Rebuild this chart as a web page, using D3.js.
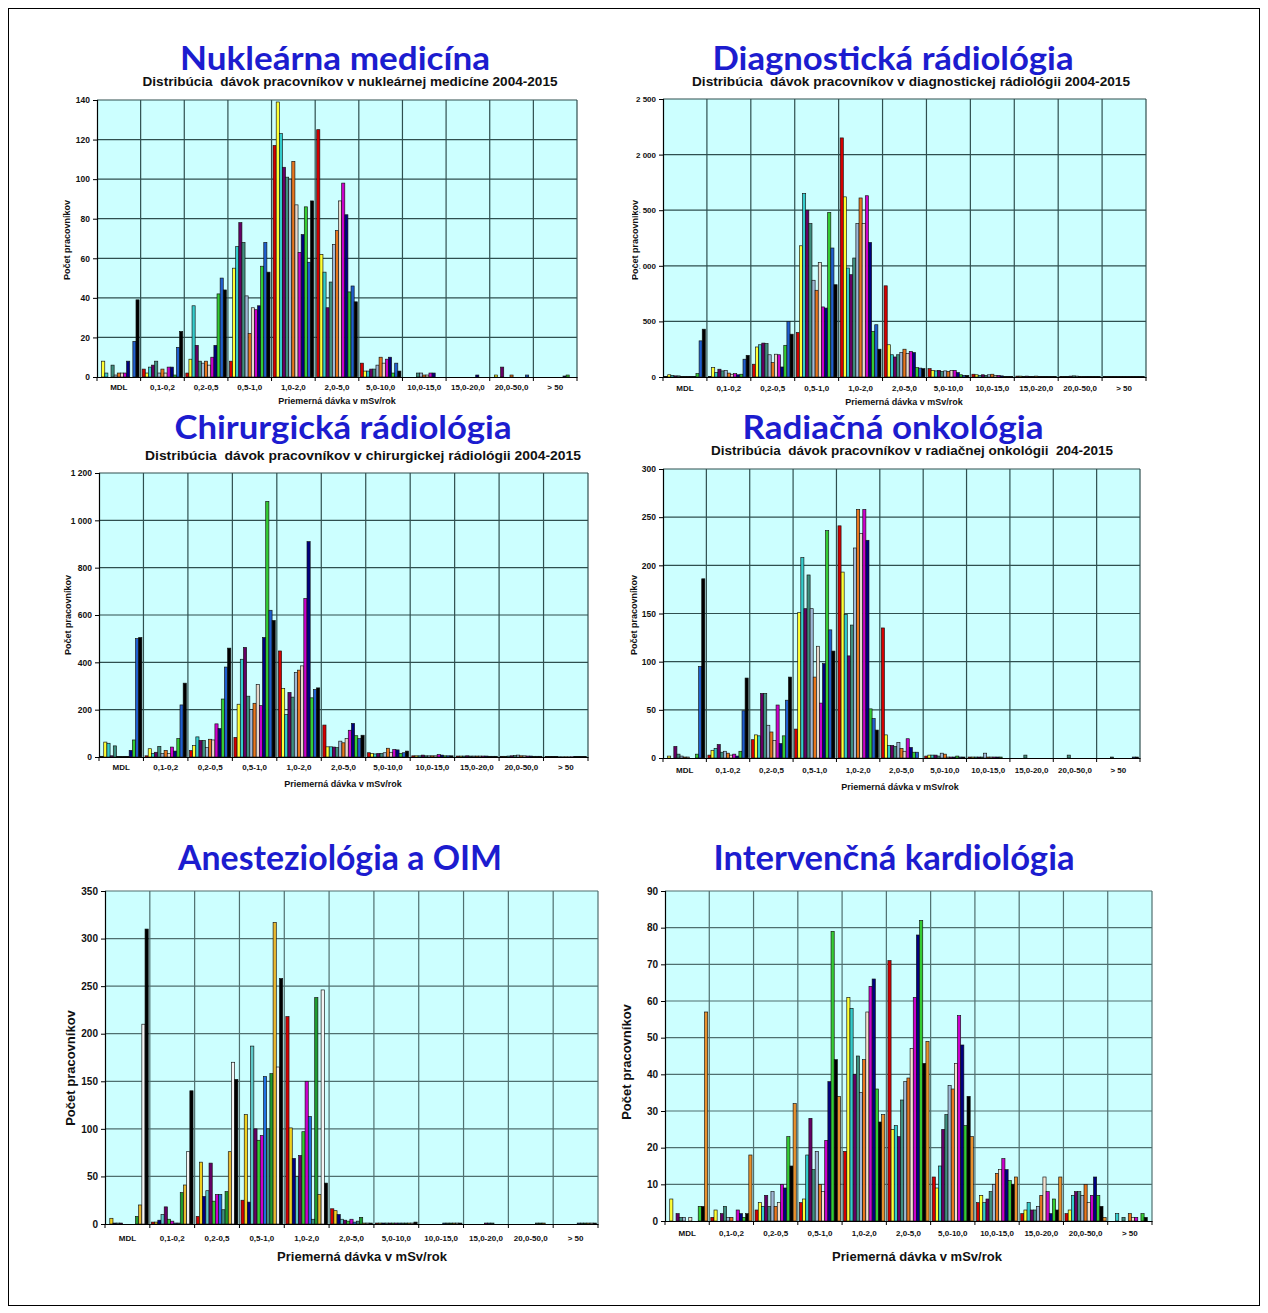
<!DOCTYPE html>
<html><head><meta charset="utf-8">
<script src="https://cdn.jsdelivr.net/npm/d3@7"></script>
<style>body{margin:0;background:#fff}</style>
</head><body><svg id="c" width="1268" height="1313"></svg>
<script>
// ---------- DATA ----------
const categories = ["MDL","0,1-0,2","0,2-0,5","0,5-1,0","1,0-2,0","2,0-5,0","5,0-10,0","10,0-15,0","15,0-20,0","20,0-50,0","> 50"];
const seriesIds = d3.range(13); // 13 bars per dose band

// Nukleárna medicína (rows = dose band, cols = series)
const nukData = [
 [0,8,2,0,6,1,2,2,2,8,0,18,39],
 [4,2,5,6,8,2,4,2,5,5,1,15,23],
 [2,9,36,16,8,7,8,6,10,16,42,50,44],
 [8,55,66,78,68,41,22,35,34,36,56,68,53],
 [117,139,123,106,101,100,109,87,63,72,86,58,89],
 [125,62,53,35,48,67,74,89,98,82,43,46,38],
 [7,3,3,4,4,6,10,7,9,10,2,7,3],
 [0,0,0,0,2,2,1,1,2,2,0,0,0],
 [0,0,0,0,0,0,0,0,0,1,0,0,0],
 [0,1,0,5,0,0,1,0,0,0,0,1,0],
 [0,0,0,0,0,0,0,0,0,0.5,1,0,0]
];
// Diagnostická rádiológia
const diagData = [
 [5,20,15,10,10,5,5,5,5,5,30,325,430],
 [5,85,40,70,55,60,35,25,30,20,25,160,195],
 [115,270,290,305,300,200,130,205,200,90,285,500,385],
 [400,1180,1650,1500,1380,870,780,1030,630,620,1480,1160,830],
 [2150,1620,980,920,1070,1380,1610,1380,1630,1210,410,470,250],
 [820,290,200,180,200,220,250,210,230,220,85,80,75],
 [75,60,55,60,50,55,50,60,60,40,20,15,15],
 [25,20,15,20,15,20,25,15,15,10,5,5,5],
 [8,8,5,8,5,5,8,5,5,5,3,3,3],
 [5,5,5,8,10,8,5,5,5,5,3,3,3],
 [5,3,3,3,3,3,3,3,3,3,3,3,3]
];
// Chirurgická rádiológia
const chirData = [
 [3,63,58,5,47,2,2,2,2,28,72,500,505],
 [5,35,15,20,45,15,28,15,42,25,78,220,312],
 [27,48,85,70,70,40,75,72,140,120,245,380,460],
 [83,223,413,463,257,200,227,307,217,505,1080,620,577],
 [448,290,180,273,253,357,367,385,670,910,250,285,292],
 [135,43,43,42,40,67,60,78,113,142,90,78,92],
 [18,15,13,15,15,18,37,20,32,30,15,18,25],
 [5,5,5,8,5,5,5,5,10,8,5,5,5],
 [4,4,4,5,4,4,4,4,4,4,3,3,3],
 [3,3,4,5,6,8,5,5,4,4,3,3,3],
 [2,2,2,2,1,1,1,1,1,2,2,2,2]
];
// Radiačná onkológia
const radData = [
 [0,2,0,12,4,2,1,1,0,0,4,95,186],
 [3,8,10,14,6,7,5,3,4,2,7,49,83],
 [19,24,23,67,67,34,27,18,55,15,23,60,84],
 [30,151,208,155,190,155,84,116,57,98,236,133,111],
 [241,193,149,106,138,218,258,233,258,226,51,41,29],
 [135,24,13,13,12,16,10,7,20,11,6,6,0],
 [2,3,3,3,2,5,4,1,1,1,2,1,1],
 [1,1,1,1,1,5,1,1,1,1,1,0,0],
 [0,0,0,0,3,0,0,0,0,0,0,0,0],
 [0,0,0,0,3,0,0,0,0,0,0,0,0],
 [0,0,0,0,1,0,0,0,0,0,0,1,1]
];
// Anesteziológia a OIM
const aneData = [
 [0,6,1,1,1,0,0,0,0,8,20,210,310],
 [2,2,4,10,18,5,3,1,1,33,41,76,140],
 [8,65,29,35,64,24,31,31,15,34,76,170,152],
 [25,115,23,187,100,88,93,155,100,158,317,165,258],
 [218,101,69,50,72,97,150,113,5,238,31,246,43],
 [16,14,10,5,4,3,5,2,3,7,1,1,1],
 [1,1,1,1,1,1,1,1,1,1,1,1,2],
 [0,0,0,0,0,0,0,1,1,1,1,1,1],
 [0,0,0,0,0,0,1,1,1,0,0,0,0],
 [0,0,0,0,0,0,0,0,1,1,1,0,0],
 [0,0,0,0,0,0,0,1,1,1,1,1,1]
];
// Intervenčná kardiológia
const intData = [
 [0,6,0,2,1,1,0,1,0,0,4,4,57],
 [1,3,0,2,4,1,1,0,3,2,1,2,18],
 [3,5,4,7,4,8,4,5,10,9,23,15,32],
 [5,6,18,28,14,19,10,8,22,38,79,44,34],
 [19,61,58,40,45,35,44,57,64,66,36,27,29],
 [71,25,26,23,33,38,39,47,61,78,82,43,49],
 [12,9,15,25,29,37,36,43,56,48,26,34,23],
 [5,7,5,6,8,10,13,14,17,14,11,10,12],
 [2,3,5,3,3,4,7,12,8,2,6,3,12],
 [2,3,7,8,8,7,10,5,7,12,7,4,1],
 [0,0,2,0,1,0,2,1,1,0,2,1,0]
];

// ---------- STYLE ----------
const palStd = ["#d40000","#ffff33","#33cccc","#660066","#3f8f7f","#9fb8d6","#e8761e","#e6d8cc","#cc00cc","#000080","#33cc33","#1f5fcf","#000000"];
const palAne = ["#d40000","#f0d020","#000080","#5cc8c8","#660066","#33cc33","#cc00cc","#1e6fe0","#3f8f7f","#1e9a30","#e8b830","#f4f4f4","#000000"];
const palInt = ["#d40000","#ffff33","#33cccc","#660066","#3f8f7f","#9fb8d6","#e8761e","#f3e2d0","#cc00cc","#000080","#33cc33","#000000","#e8902c"];

const panels = [
 {data:nukData, pal:palStd, yMax:140, yStep:20, left:97, right:577, top:100, bottom:377,
  title:"Nukleárna medicína", tx:335, ty:70, tw:310, ts:32,
  sub:"Distribúcia  dávok pracovníkov v nukleárnej medicíne 2004-2015", sx:350, sy:86, sw:415,
  catY:390, xtX:337, xtY:404, xtS:9, ytX:70, ytY:240, ytS:9, tickS:8.5, grid:"#2f4f4f"},
 {data:diagData, pal:palStd, yMax:2500, yStep:500, left:663, right:1146, top:99, bottom:377,
  title:"Diagnostická rádiológia", tx:893, ty:70, tw:361, ts:32,
  sub:"Distribúcia  dávok pracovníkov v diagnostickej rádiológii 2004-2015", sx:911, sy:86, sw:438,
  catY:391, xtX:904, xtY:405, xtS:9, ytX:638, ytY:240, ytS:9, tickS:8, grid:"#2f4f4f", cover:true},
 {data:chirData, pal:palStd, yMax:1200, yStep:200, left:99, right:588, top:473, bottom:757,
  title:"Chirurgická rádiológia", tx:343, ty:439, tw:337, ts:32,
  sub:"Distribúcia  dávok pracovníkov v chirurgickej rádiológii 2004-2015", sx:363, sy:460, sw:436,
  catY:770, xtX:343, xtY:787, xtS:9, ytX:71, ytY:615, ytS:9, tickS:8.5, grid:"#2f4f4f"},
 {data:radData, pal:palStd, yMax:300, yStep:50, left:663, right:1140, top:469, bottom:758,
  title:"Radiačná onkológia", tx:893, ty:439, tw:301, ts:32,
  sub:"Distribúcia  dávok pracovníkov v radiačnej onkológii  204-2015", sx:912, sy:455, sw:402,
  catY:773, xtX:900, xtY:790, xtS:9, ytX:637, ytY:615, ytS:9, tickS:8.5, grid:"#2f4f4f"},
 {data:aneData, pal:palAne, yMax:350, yStep:50, left:105, right:598, top:891, bottom:1224,
  title:"Anesteziológia a OIM", tx:340, ty:870, tw:324, ts:34,
  catY:1241, xtX:362, xtY:1261, xtS:13, ytX:75, ytY:1068, ytS:13, tickS:10, grid:"#4f6f6f"},
 {data:intData, pal:palInt, yMax:90, yStep:10, left:665, right:1152, top:891, bottom:1221,
  title:"Intervenčná kardiológia", tx:894, ty:870, tw:361, ts:34,
  catY:1236, xtX:917, xtY:1261, xtS:13, ytX:631, ytY:1062, ytS:13, tickS:10, grid:"#4f6f6f"}
];

const svg = d3.select("#c");
svg.append("rect").attr("x",8.5).attr("y",8.5).attr("width",1251).attr("height",1297)
  .attr("fill","#fff").attr("stroke","#000").attr("stroke-width",1);

const fmt = v => d3.format(",")(v).replace(/,/g," ");
const AR = "'Liberation Sans', Arial, sans-serif";

panels.forEach(p => {
  const g = svg.append("g");
  const x0 = d3.scaleBand().domain(categories).range([p.left, p.right]).padding(0);
  const bw = x0.bandwidth();
  const x1 = d3.scaleBand().domain(seriesIds).range([bw*0.035, bw*0.965]).padding(0);
  const y = d3.scaleLinear().domain([0, p.yMax]).range([p.bottom, p.top]);
  const yt = d3.range(0, p.yMax + p.yStep/2, p.yStep);

  g.append("rect").attr("x",p.left).attr("y",p.top).attr("width",p.right-p.left)
   .attr("height",p.bottom-p.top).attr("fill","#ccffff");

  // gridlines
  g.append("g").selectAll("line").data(yt.slice(1)).join("line")
   .attr("x1",p.left).attr("x2",p.right).attr("y1",d=>y(d)).attr("y2",d=>y(d))
   .attr("stroke",p.grid).attr("stroke-width",1.2);
  g.append("g").selectAll("line").data(categories.slice(1)).join("line")
   .attr("x1",d=>x0(d)).attr("x2",d=>x0(d)).attr("y1",p.top).attr("y2",p.bottom)
   .attr("stroke",p.grid).attr("stroke-width",1.2);
  g.append("line").attr("x1",p.right).attr("x2",p.right).attr("y1",p.top).attr("y2",p.bottom)
   .attr("stroke",p.grid).attr("stroke-width",1.2);

  // bars
  const grp = g.append("g").selectAll("g").data(p.data).join("g")
   .attr("transform",(d,i)=>`translate(${x0(categories[i])},0)`);
  grp.selectAll("rect").data(d=>d.map((v,k)=>({v,k}))).join("rect")
   .attr("x",d=>x1(d.k)).attr("width",x1.bandwidth())
   .attr("y",d=>y(d.v)).attr("height",d=>Math.max(0,p.bottom-y(d.v)))
   .attr("fill",d=>p.pal[d.k]).attr("stroke","#111").attr("stroke-width",0.65);

  // y axis
  const ya = g.append("g").attr("transform",`translate(${p.left},0)`)
   .call(d3.axisLeft(y).tickValues(yt).tickSize(4).tickPadding(3).tickFormat(fmt));
  ya.select(".domain").attr("stroke","#000").attr("stroke-width",1.2);
  ya.selectAll("text").attr("font-family",AR).attr("font-weight","bold").attr("font-size",p.tickS).attr("fill","#111");
  ya.selectAll(".tick line").attr("stroke","#000");

  // x axis
  const xa = g.append("g").attr("transform",`translate(0,${p.bottom})`)
   .call(d3.axisBottom(x0).tickSize(0).tickPadding(p.catY-p.bottom-6));
  xa.select(".domain").attr("stroke","#000").attr("stroke-width",1.2);
  xa.selectAll("text").attr("font-family",AR).attr("font-weight","bold").attr("font-size",8).attr("fill","#111");
  g.append("g").selectAll("line").data(categories.concat(["__end"])).join("line")
   .attr("x1",d=>d==="__end"?p.right:x0(d)).attr("x2",d=>d==="__end"?p.right:x0(d))
   .attr("y1",p.bottom).attr("y2",p.bottom+4).attr("stroke","#000");

  if (p.cover) {
    g.append("rect").attr("x",615).attr("y",186).attr("width",24.5).attr("height",108).attr("fill","#fff");
  }

  // axis titles
  g.append("text").attr("x",p.xtX).attr("y",p.xtY).attr("text-anchor","middle")
   .attr("font-family",AR).attr("font-weight","bold").attr("font-size",p.xtS).attr("fill","#111")
   .text("Priemerná dávka v mSv/rok");
  g.append("text").attr("transform",`translate(${p.ytX},${p.ytY}) rotate(-90)`).attr("text-anchor","middle")
   .attr("font-family",AR).attr("font-weight","bold").attr("font-size",p.ytS).attr("fill","#111")
   .text("Počet pracovníkov");

  if (p.cover) {
    g.append("rect").attr("x",615).attr("y",186).attr("width",17).attr("height",108).attr("fill","#fff");
  }

  // titles
  g.append("text").attr("x",p.tx).attr("y",p.ty).attr("text-anchor","middle")
   .attr("font-family","Lato, 'Open Sans', sans-serif").attr("font-weight","bold")
   .attr("font-size",p.ts).attr("fill","#1c1ccf")
   .attr("textLength",p.tw).attr("lengthAdjust","spacingAndGlyphs").text(p.title);
  if (p.sub) {
    g.append("text").attr("x",p.sx).attr("y",p.sy).attr("text-anchor","middle")
     .attr("font-family",AR).attr("font-weight","bold").attr("font-size",12).attr("fill","#111")
     .attr("textLength",p.sw).attr("lengthAdjust","spacingAndGlyphs")
     .style("white-space","pre").text(p.sub);
  }
});
</script>
</body></html>
